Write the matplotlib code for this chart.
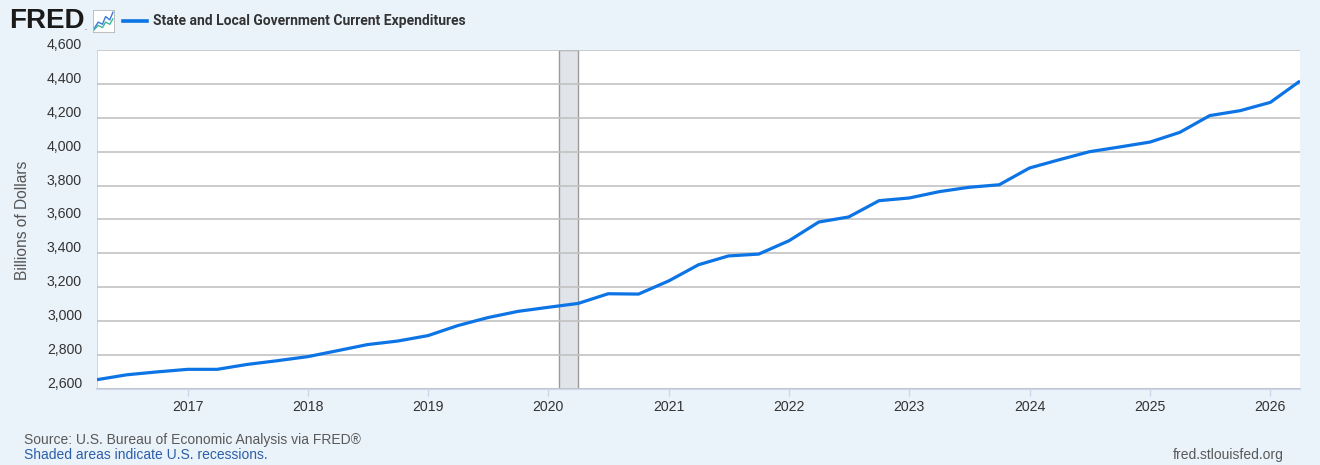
import pandas as pd
import matplotlib
matplotlib.use("Agg")
import matplotlib.pyplot as plt
import matplotlib.dates as mdates
import matplotlib.transforms as mtransforms
from matplotlib.ticker import FuncFormatter, FixedLocator

plt.rcParams['font.family'] = ['Liberation Sans', 'DejaVu Sans']

# quarterly series, billions of dollars (SAAR), 2016Q2 .. 2026Q2
start_quarter = '2016-04-01'
expenditures = [
    2655, 2684, 2701, 2716, 2716, 2745, 2767, 2791,
    2826, 2862, 2883, 2915, 2974, 3021, 3058, 3082,
    3105, 3162, 3160, 3238, 3333, 3385, 3396, 3475,
    3585, 3615, 3711, 3727, 3764, 3790, 3805, 3904,
    3953, 4000, 4028, 4057, 4114, 4213, 4242, 4291,
    4417,
]
recession_start = '2020-02-01'
recession_end = '2020-04-01'
series_name = 'State and Local Government Current Expenditures'
y_ticks = [2600, 2800, 3000, 3200, 3400, 3600, 3800, 4000, 4200, 4400, 4600]
x_years = list(range(2017, 2027))

# little icon next to the logo
icon_a = [0.15, 0.45, 0.35, 0.7, 0.55, 0.9]
icon_b = [0.1, 0.3, 0.2, 0.45, 0.35, 0.6]

dates = pd.date_range(start_quarter, periods=len(expenditures), freq='QS')

bg = '#eaf2fa'
line_blue = '#0c74e4'

fig = plt.figure(figsize=(13.2, 4.65), dpi=100, facecolor=bg)
ax = fig.add_axes([97 / 1320, 76 / 465, 1203 / 1320, 339 / 465])
ax.set_facecolor('white')

ax.axvspan(pd.Timestamp(recession_start), pd.Timestamp(recession_end),
           facecolor='#e1e5ea', edgecolor='#9a9a9a', linewidth=1.0, zorder=1)
ax.plot(dates, expenditures, color=line_blue, linewidth=2.3, zorder=3,
        solid_joinstyle='round', solid_capstyle='butt')

ax.set_xlim(pd.Timestamp('2016-04-01'), pd.Timestamp('2026-04-01'))
ax.set_ylim(2600, 4600)

ax.yaxis.set_major_locator(FixedLocator(y_ticks))
ax.yaxis.set_major_formatter(FuncFormatter(lambda v, p: f'{int(v):,}'))
ax.xaxis.set_major_locator(FixedLocator([mdates.date2num(pd.Timestamp(f'{y}-01-01')) for y in x_years]))
ax.xaxis.set_major_formatter(FuncFormatter(lambda v, p: mdates.num2date(v).strftime('%Y')))

ax.grid(axis='y', color='#c2c2c2', linewidth=1.2, zorder=2)
ax.set_axisbelow(False)
for s in ['top', 'right']:
    ax.spines[s].set_visible(False)
ax.spines['left'].set_color('#d0d0d0')
ax.spines['left'].set_linewidth(0.6)
ax.spines['bottom'].set_color('#ccd6eb')
ax.spines['bottom'].set_linewidth(1.5)

ax.tick_params(axis='y', length=0, pad=10.8, labelsize=10.2, labelcolor='#333333')
ax.tick_params(axis='x', length=5, width=1, color='#ccd6eb', pad=3,
               labelsize=10.2, labelcolor='#333333')

# FRED puts y labels a little above the grid line
shift = mtransforms.ScaledTranslation(0, 6.5 / 100, fig.dpi_scale_trans)
for lab in ax.get_yticklabels():
    lab.set_transform(lab.get_transform() + shift)

fig.text(23 / 1320, 1 - 220 / 465, 'Billions of Dollars', rotation=90,
         ha='center', va='center', fontsize=11.2, color='#555555')

# header
fig.text(9 / 1320, 1 - 21 / 465, 'FRED', fontsize=20, fontweight='bold',
         color='#1a1a1a', ha='left', va='center')
fig.text(84 / 1320, 1 - 30 / 465, '.', fontsize=5, color='#1a1a1a')
icon = fig.add_axes([93 / 1320, 1 - 32 / 465, 21 / 1320, 22 / 465])
icon.set_facecolor('white')
icon.plot([0.05, 0.25, 0.45, 0.6, 0.8, 0.95], icon_a, color='#3b78d8', linewidth=1.0)
icon.plot([0.05, 0.25, 0.45, 0.6, 0.8, 0.95], icon_b, color='#3cb89a', linewidth=1.0)
icon.set_xlim(0, 1)
icon.set_ylim(0, 1)
icon.set_xticks([])
icon.set_yticks([])
for s in icon.spines.values():
    s.set_color('#b5b5b5')
    s.set_linewidth(0.6)

fig.add_artist(plt.Line2D([123 / 1320, 147 / 1320], [1 - 21 / 465, 1 - 21 / 465],
                          color=line_blue, linewidth=2.6))
fig.text(153 / 1320, 1 - 21 / 465, series_name, fontsize=10, fontweight='bold',
         family=['Roboto', 'DejaVu Sans'], color='#333333', ha='left', va='center')

# footer
fig.text(24 / 1320, 1 - 440 / 465, 'Source: U.S. Bureau of Economic Analysis via FRED®',
         fontsize=10, color='#595959', ha='left', va='center')
fig.text(24 / 1320, 1 - 455 / 465, 'Shaded areas indicate U.S. recessions.',
         fontsize=10, color='#2c5ea8', ha='left', va='center')
fig.text(1284 / 1320, 1 - 455 / 465, 'fred.stlouisfed.org',
         fontsize=10, color='#595959', ha='right', va='center')

fig.savefig('out.png', dpi=100, facecolor=bg)
